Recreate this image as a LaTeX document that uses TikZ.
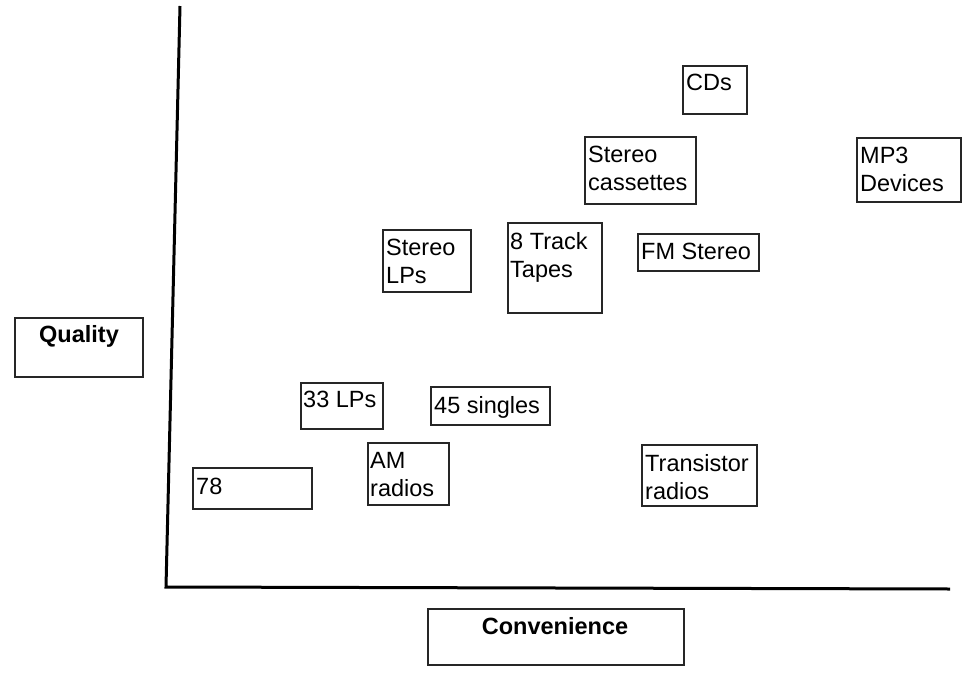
\documentclass[tikz,border=0pt]{standalone}
\usepackage{fontspec}
\setmainfont{Liberation Sans}
\begin{document}
\begin{tikzpicture}[x=1pt,y=-1pt,
  itembox/.style={draw=black!85, line width=1.8pt, inner sep=0pt},
  itemtxt/.style={anchor=north west, inner sep=0pt, align=left, yshift=-2pt, font=\fontsize{23.5}{28}\selectfont},
  axistxt/.style={anchor=base, inner sep=0pt, font=\fontsize{23.5}{28}\selectfont\bfseries},
  axisline/.style={line width=3pt, line join=miter}]
\useasboundingbox (0,0) rectangle (980,680);
% axes
\coordinate (ytop) at (180,6);
\coordinate (origin) at (166,587);
\coordinate (xend) at (950,589);
\draw[axisline] (ytop) -- (origin) -- (xend);
% axis label boxes
\draw[itembox] (15,318) rectangle (143,377);
\node[axistxt] (quality) at (79,342) {Quality};
\draw[itembox] (428,609) rectangle (684,665);
\node[axistxt] (convenience) at (555,634) {Convenience};
% item boxes
\draw[itembox] (683,66) rectangle (747,114);
\node[itemtxt] (cds) at (686,72) {CDs};
\draw[itembox] (585,137) rectangle (696,204);
\node[itemtxt] (stcass) at (588,144) {Stereo\\cassettes};
\draw[itembox] (857,138) rectangle (961,202);
\node[itemtxt] (mp3) at (860,145) {MP3\\Devices};
\draw[itembox] (383,230) rectangle (471,292);
\node[itemtxt] (stlp) at (386,237) {Stereo\\LPs};
\draw[itembox] (508,223) rectangle (602,313);
\node[itemtxt] (eight) at (510,230) {8 Track\\Tapes};
\draw[itembox] (638,234) rectangle (759,271);
\node[itemtxt] (fm) at (641,241) {FM Stereo};
\draw[itembox] (301,383) rectangle (383,429);
\node[itemtxt] (lp33) at (303,389) {33 LPs};
\draw[itembox] (431,387) rectangle (550,425);
\node[itemtxt] (s45) at (434,394) {45 singles};
\draw[itembox] (368,443) rectangle (449,505);
\node[itemtxt] (am) at (370,450) {AM\\radios};
\draw[itembox] (193,468) rectangle (312,509);
\node[itemtxt] (r78) at (196,476) {78};
\draw[itembox] (642,445) rectangle (757,506);
\node[itemtxt] (trans) at (645,452) {Transistor\\radios};
\end{tikzpicture}
\end{document}
